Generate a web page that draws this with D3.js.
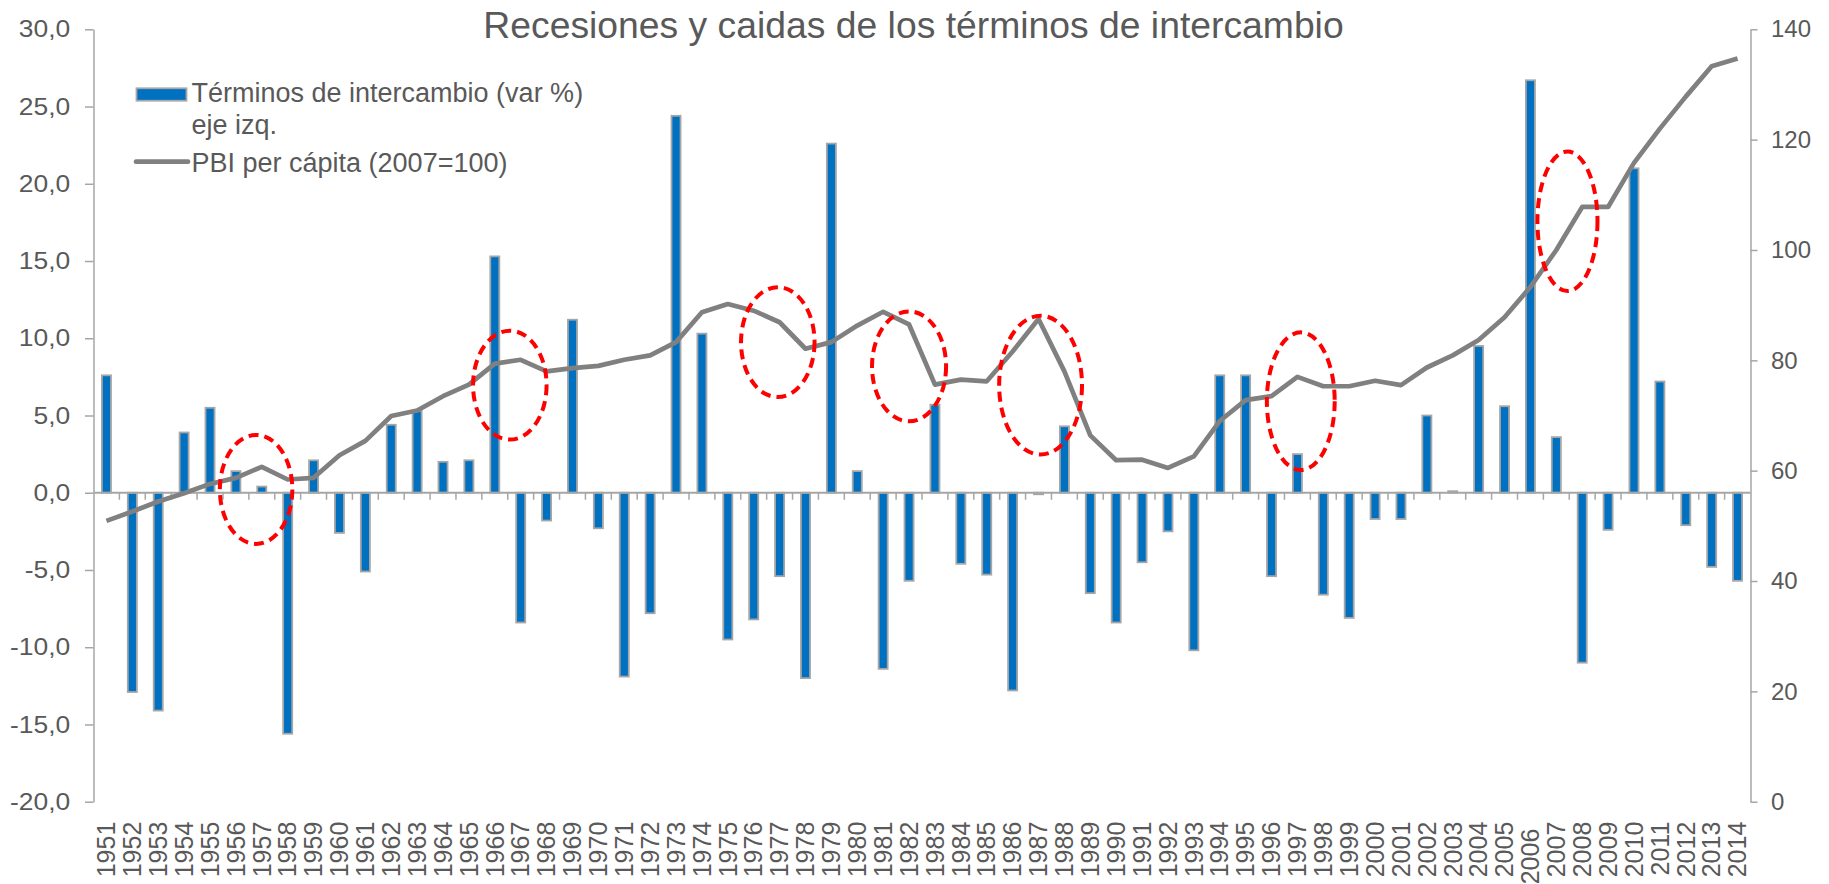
<!DOCTYPE html>
<html>
<head>
<meta charset="utf-8">
<script src="https://cdn.jsdelivr.net/npm/d3@7"></script>
<style>
  html, body { margin: 0; padding: 0; background: #ffffff; }
  svg { display: block; }
  text { font-family: "Liberation Sans", Arial, sans-serif; fill: #595959; }
</style>
</head>
<body>
<svg id="chart" width="1829" height="884"></svg>
<script>
// ---- data ----
const years = [1951,1952,1953,1954,1955,1956,1957,1958,1959,1960,
  1961,1962,1963,1964,1965,1966,1967,1968,1969,1970,
  1971,1972,1973,1974,1975,1976,1977,1978,1979,1980,
  1981,1982,1983,1984,1985,1986,1987,1988,1989,1990,
  1991,1992,1993,1994,1995,1996,1997,1998,1999,2000,
  2001,2002,2003,2004,2005,2006,2007,2008,2009,2010,
  2011,2012,2013,2014];
const terminos = [7.6,-12.9,-14.1,3.9,5.5,1.4,0.4,-15.6,2.1,-2.6,
  -5.1,4.4,5.3,2.0,2.1,15.3,-8.4,-1.8,11.2,-2.3,
  -11.9,-7.8,24.4,10.3,-9.5,-8.2,-5.4,-12.0,22.6,1.4,
  -11.4,-5.7,5.7,-4.6,-5.3,-12.8,-0.1,4.3,-6.5,-8.4,
  -4.5,-2.5,-10.2,7.6,7.6,-5.4,2.5,-6.6,-8.1,-1.7,
  -1.7,5.0,0.1,9.5,5.6,26.7,3.6,-11.0,-2.4,21.0,
  7.2,-2.1,-4.8,-5.7];
const pbi = [50.9,52.6,54.4,55.9,57.6,58.7,60.7,58.4,58.7,62.8,
  65.4,69.9,70.9,73.5,75.6,79.4,80.1,78.0,78.6,79.0,
  80.1,80.9,83.3,88.7,90.2,89.0,86.9,82.1,83.3,86.3,
  88.8,86.5,75.6,76.5,76.2,81.6,87.5,78.0,66.4,61.9,
  62.0,60.5,62.6,69.0,72.8,73.5,77.0,75.3,75.3,76.3,
  75.5,78.7,80.9,83.7,87.8,93.3,100.0,107.8,107.8,115.8,
  122.0,127.8,133.3,134.7];
const leftTicks = [-20,-15,-10,-5,0,5,10,15,20,25,30];
const rightTicks = [0,20,40,60,80,100,120,140];
// annotation ellipses: centre year, centre (right axis), half-width in years, half-height (right axis units)
const ellYear = [1956.78,1966.58,1976.93,1982.0,1987.08,1997.13,2007.43];
const ellValue = [56.6,75.5,83.3,78.9,75.5,72.6,105.2];
const ellHalfYears = [1.40,1.42,1.42,1.43,1.60,1.31,1.16];
const ellHalfValue = [9.87,9.87,9.96,9.96,12.58,12.47,12.64];

const titleText = "Recesiones y caidas de los términos de intercambio";
const legendBar = ["Términos de intercambio (var %)", "eje izq."];
const legendLine = "PBI per cápita (2007=100)";

// ---- layout ----
const svg = d3.select("#chart");
const X0 = 93.5, X1 = 1750.5, YT = 29.3, YB = 801.7;
const axisColor = "#A6A6A6";
const SXL = 1.1;

const x = d3.scaleBand().domain(years).range([X0, X1]).paddingInner(0.65).paddingOuter(0.325);
const xc = d3.scaleLinear().domain([years[0], years[years.length-1]])
  .range([x(years[0]) + x.bandwidth()/2, x(years[years.length-1]) + x.bandwidth()/2]);
const yL = d3.scaleLinear().domain([-20, 30]).range([YB, YT]);
const yR = d3.scaleLinear().domain([0, 140]).range([YB, YT]);

// title
svg.append("text")
  .attr("x", 913.5).attr("y", 38)
  .attr("text-anchor", "middle")
  .style("font-size", "37.3px")
  .text(titleText);

// left axis
const gL = svg.append("g").attr("transform", `translate(${X0},0)`)
  .call(d3.axisLeft(yL).tickValues(leftTicks).tickSize(8.5).tickSizeOuter(0)
    .tickFormat(d => d.toFixed(1).replace(".", ",")));
gL.select(".domain").attr("stroke", axisColor).attr("stroke-width", 1.5);
gL.selectAll(".tick line").attr("stroke", axisColor).attr("stroke-width", 1.5);
gL.selectAll(".tick text")
  .attr("x", -23.3 / SXL).attr("transform", `scale(${SXL},1)`)
  .style("font-size", "24px").style("fill", "#595959").attr("font-family", null);

// right axis
const gR = svg.append("g").attr("transform", `translate(${X1},0)`)
  .call(d3.axisRight(yR).tickValues(rightTicks).tickSize(7).tickSizeOuter(0)
    .tickFormat(d3.format("d")));
gR.select(".domain").attr("stroke", axisColor).attr("stroke-width", 1.5);
gR.selectAll(".tick line").attr("stroke", axisColor).attr("stroke-width", 1.5);
gR.selectAll(".tick text")
  .attr("x", 20.5)
  .style("font-size", "24px").style("fill", "#595959").attr("font-family", null);

// bars
svg.append("g").selectAll("rect").data(years).join("rect")
  .attr("x", d => x(d))
  .attr("width", x.bandwidth())
  .attr("y", (d, i) => yL(Math.max(0, terminos[i])))
  .attr("height", (d, i) => Math.abs(yL(terminos[i]) - yL(0)))
  .attr("fill", "#0070C0")
  .attr("stroke", "#A6A6A6")
  .attr("stroke-width", 1.8);

// zero line with category ticks
const zeroY = yL(0);
svg.append("line").attr("x1", X0).attr("x2", X1).attr("y1", zeroY).attr("y2", zeroY)
  .attr("stroke", axisColor).attr("stroke-width", 2);
const boundaries = years.map(d => x(d) - x.step() * x.paddingInner() / 2).slice(1);
svg.append("g").selectAll("line").data(boundaries).join("line")
  .attr("x1", d => d).attr("x2", d => d)
  .attr("y1", zeroY).attr("y2", zeroY + 7)
  .attr("stroke", axisColor).attr("stroke-width", 1.5);

// x labels (rotated)
svg.append("g").selectAll("text").data(years).join("text")
  .attr("transform", d => `translate(${xc(d)},${821.7 + (d === 2006 ? 7 : 0)}) rotate(-90)`)
  .attr("text-anchor", "end")
  .attr("dy", "0.35em")
  .style("font-size", "25px")
  .text(d => d);

// PBI line
const line = d3.line().x((d, i) => xc(years[i])).y(d => yR(d));
svg.append("path").datum(pbi)
  .attr("d", line)
  .attr("fill", "none")
  .attr("stroke", "#808080")
  .attr("stroke-width", 4.7)
  .attr("stroke-linejoin", "round");

// red dashed ellipses
svg.append("g").selectAll("ellipse").data(ellYear).join("ellipse")
  .attr("cx", d => xc(d))
  .attr("cy", (d, i) => yR(ellValue[i]))
  .attr("rx", (d, i) => ellHalfYears[i] * x.step())
  .attr("ry", (d, i) => yR(0) - yR(ellHalfValue[i]))
  .attr("fill", "none")
  .attr("stroke", "#FF0000")
  .attr("stroke-width", 4)
  .attr("stroke-dasharray", "10 6");

// legend
const lg = svg.append("g");
lg.append("rect").attr("x", 136.5).attr("y", 88.3).attr("width", 50).attr("height", 12.4)
  .attr("fill", "#0070C0").attr("stroke", "#A6A6A6").attr("stroke-width", 1.8);
lg.append("text").attr("x", 191.5).attr("y", 101.7)
  .style("font-size", "27px").text(legendBar[0]);
lg.append("text").attr("x", 191.5).attr("y", 133.5)
  .style("font-size", "27px").text(legendBar[1]);
lg.append("line").attr("x1", 136).attr("x2", 188).attr("y1", 161.7).attr("y2", 161.7)
  .attr("stroke", "#808080").attr("stroke-width", 4.7).attr("stroke-linecap", "round");
lg.append("text").attr("x", 191.5).attr("y", 171.7)
  .style("font-size", "27px").text(legendLine);
</script>
</body>
</html>
